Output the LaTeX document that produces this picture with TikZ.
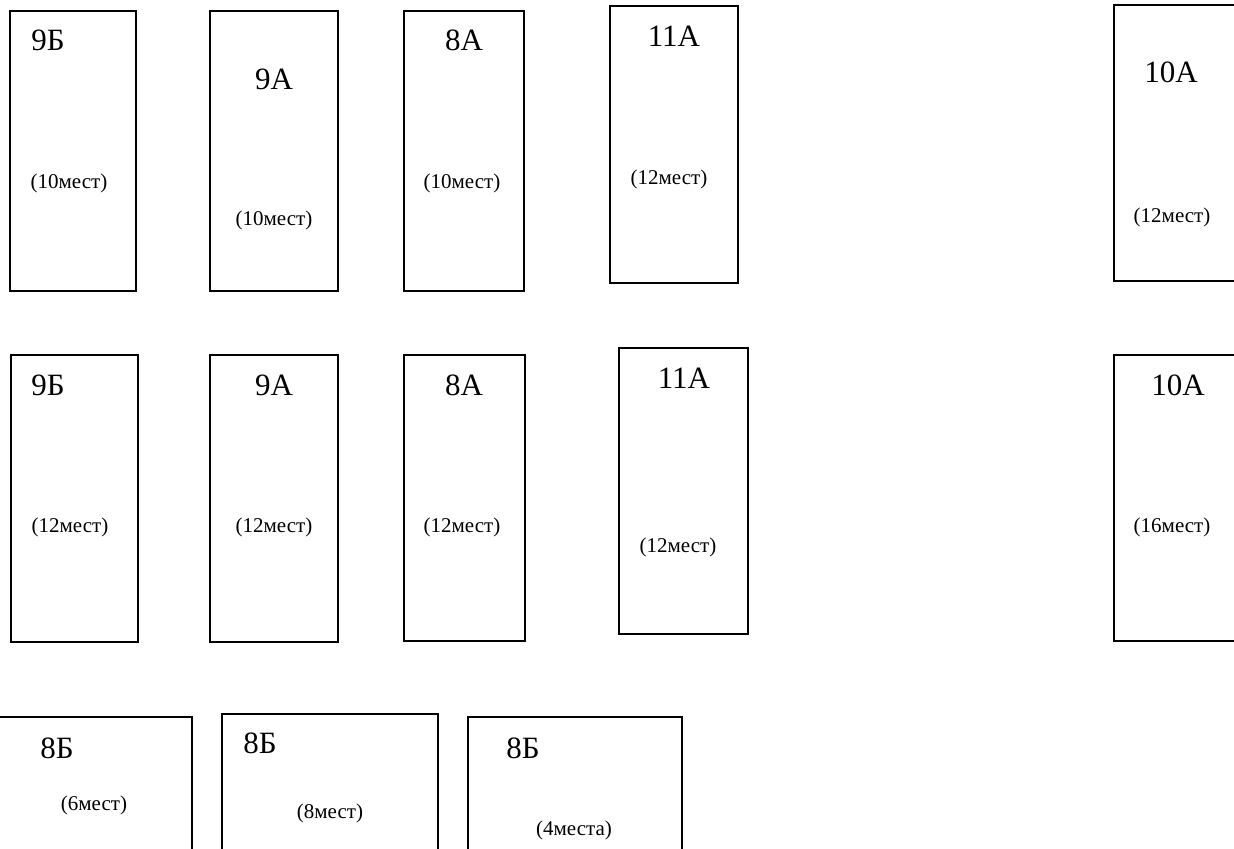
\documentclass[tikz,border=0pt]{standalone}
\usepackage{fontspec}
\setmainfont{Liberation Serif}
\begin{document}
\begin{tikzpicture}
        [x=0.5pt, y=-0.5pt,
        room/.style={draw, line width=0.75pt},
        cls/.style={inner sep=0pt, font=\fontsize{15.5}{18}\selectfont},
        seats/.style={inner sep=0pt, font=\fontsize{10.5}{12}\selectfont}]
        \clip (0,0) rectangle (1234,849);
        % first row
        \draw[room] (10,11) rectangle (136,291);
        \draw[room] (210,11) rectangle (338,291);
        \draw[room] (404,11) rectangle (524,291);
        \draw[room] (610,6) rectangle (738,283);
        \draw[room] (1114,5) rectangle (1250,281);
        \node[cls] (c9b) at (48,40) {9Б};
        \node[seats] (s9b) at (69,183) {(10мест)};
        \node[cls] (c9a) at (274,79) {9А};
        \node[seats] (s9a) at (274,220) {(10мест)};
        \node[cls] (c8a) at (464,40) {8А};
        \node[seats] (s8a) at (462,183) {(10мест)};
        \node[cls] (c11a) at (674,36) {11А};
        \node[seats] (s11a) at (669,179) {(12мест)};
        \node[cls] (c10a) at (1171,72) {10А};
        \node[seats] (s10a) at (1172,217) {(12мест)};
        % second row
        \draw[room] (11,355) rectangle (138,642);
        \draw[room] (210,355) rectangle (338,642);
        \draw[room] (404,355) rectangle (525,641);
        \draw[room] (619,348) rectangle (748,634);
        \draw[room] (1114,355) rectangle (1250,641);
        \node[cls] (d9b) at (48,385) {9Б};
        \node[seats] (t9b) at (70,527) {(12мест)};
        \node[cls] (d9a) at (274,385) {9А};
        \node[seats] (t9a) at (274,527) {(12мест)};
        \node[cls] (d8a) at (464,385) {8А};
        \node[seats] (t8a) at (462,527) {(12мест)};
        \node[cls] (d11a) at (684,378) {11А};
        \node[seats] (t11a) at (678,547) {(12мест)};
        \node[cls] (d10a) at (1178,385) {10А};
        \node[seats] (t10a) at (1172,527) {(16мест)};
        % third row
        \draw[room] (-5,717) rectangle (192,870);
        \draw[room] (222,714) rectangle (438,870);
        \draw[room] (468,717) rectangle (682,870);
        \node[cls] (e8b1) at (57,748) {8Б};
        \node[seats] (u8b1) at (94,805) {(6мест)};
        \node[cls] (e8b2) at (260,743) {8Б};
        \node[seats] (u8b2) at (330,813) {(8мест)};
        \node[cls] (e8b3) at (523,748) {8Б};
        \node[seats] (u8b3) at (574,830) {(4места)};
    \end{tikzpicture}
\end{document}
